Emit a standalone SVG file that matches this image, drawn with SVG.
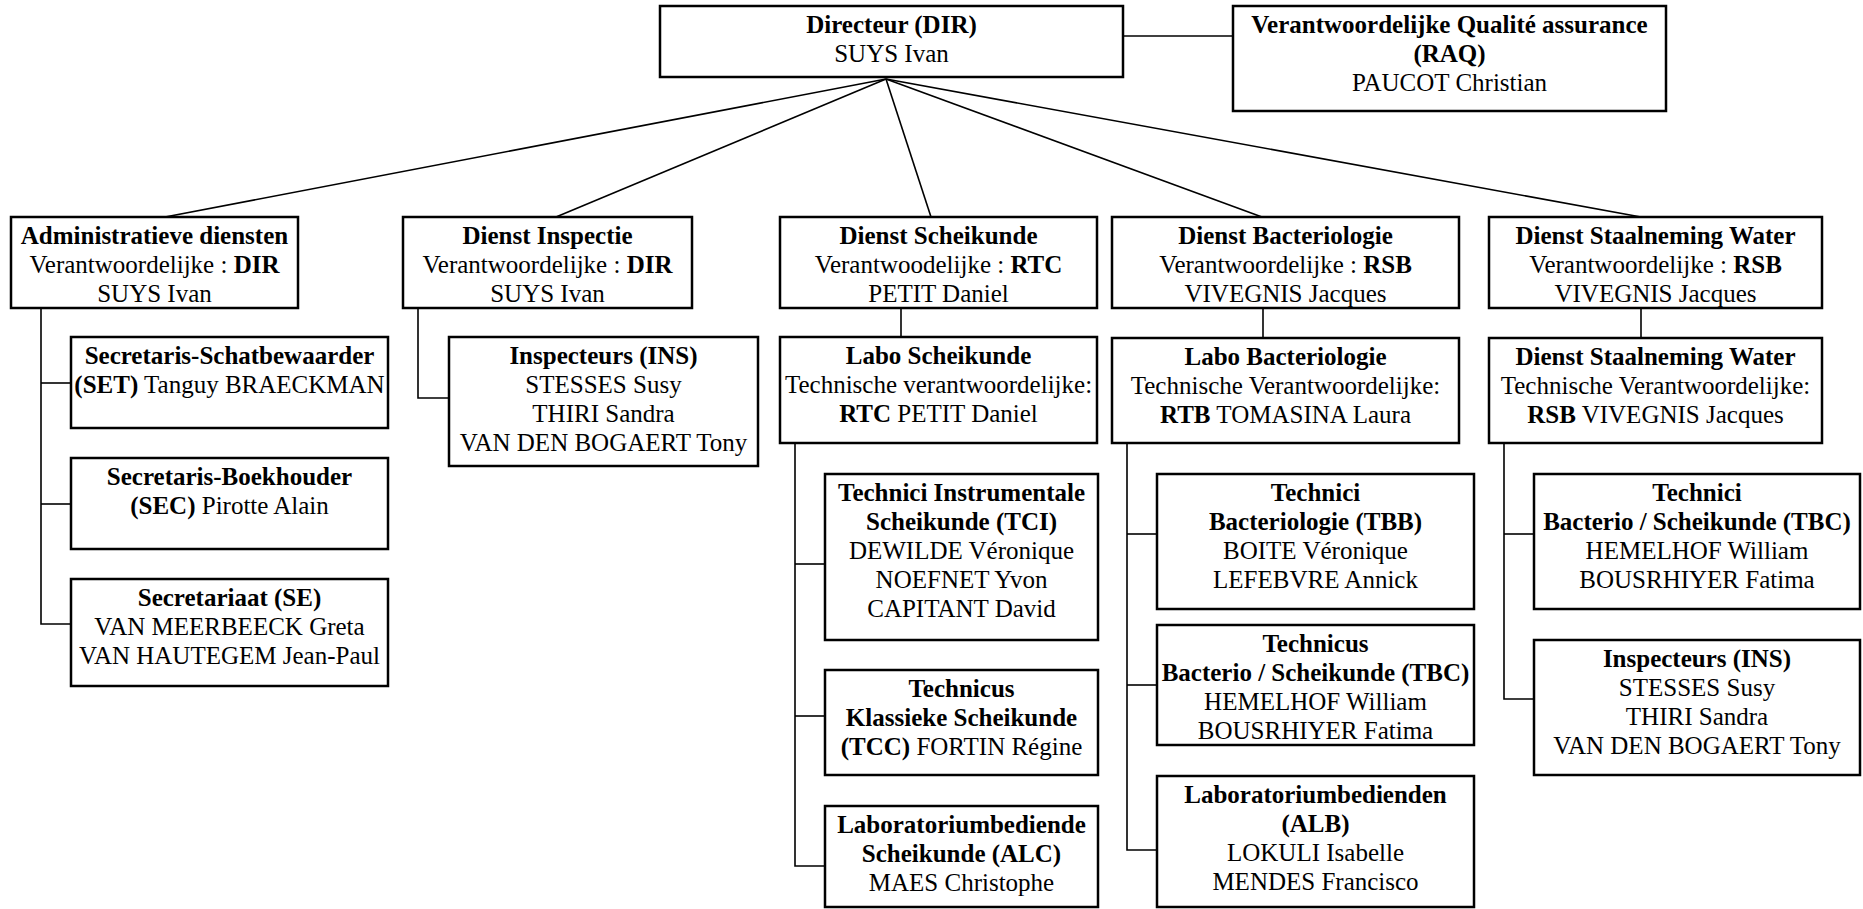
<svg xmlns="http://www.w3.org/2000/svg" width="1863" height="909" viewBox="0 0 1863 909">
<style>
.box{fill:#fff;stroke:#000;stroke-width:2.5}
.ln{stroke:#000;stroke-width:1.6;fill:none}
text{font-family:"Liberation Serif","Times New Roman",serif;font-size:25px;text-anchor:middle;fill:#000}
.b{font-weight:bold}
</style>
<rect width="1863" height="909" fill="#fff"/>
<g id="connectors">
<line class="ln" x1="1123" y1="36" x2="1233" y2="36"/>
<line class="ln" x1="886" y1="79" x2="165" y2="217"/>
<line class="ln" x1="886" y1="79" x2="556" y2="217"/>
<line class="ln" x1="886" y1="79" x2="931" y2="217"/>
<line class="ln" x1="886" y1="79" x2="1262" y2="217"/>
<line class="ln" x1="886" y1="79" x2="1641" y2="217"/>
<polyline class="ln" points="41,308 41,624 71,624"/>
<line class="ln" x1="41" y1="383" x2="71" y2="383"/>
<line class="ln" x1="41" y1="504" x2="71" y2="504"/>
<polyline class="ln" points="418,308 418,398 449,398"/>
<line class="ln" x1="901" y1="308" x2="901" y2="337"/>
<polyline class="ln" points="795,443 795,866 825,866"/>
<line class="ln" x1="795" y1="564" x2="825" y2="564"/>
<line class="ln" x1="795" y1="716" x2="825" y2="716"/>
<line class="ln" x1="1263" y1="308" x2="1263" y2="338"/>
<polyline class="ln" points="1127,443 1127,850 1157,850"/>
<line class="ln" x1="1127" y1="534" x2="1157" y2="534"/>
<line class="ln" x1="1127" y1="685" x2="1157" y2="685"/>
<line class="ln" x1="1641" y1="308" x2="1641" y2="338"/>
<polyline class="ln" points="1504,443 1504,699 1534,699"/>
<line class="ln" x1="1504" y1="534" x2="1534" y2="534"/>
</g>
<g id="dir"><rect class="box" x="660" y="6" width="463" height="71"/>
<text x="891.5" y="32.5" class="b">Directeur (DIR)</text><text x="891.5" y="61.5">SUYS Ivan</text></g>
<g id="raq"><rect class="box" x="1233" y="6" width="433" height="105"/>
<text x="1449.5" y="32.5" class="b">Verantwoordelijke Qualité assurance</text><text x="1449.5" y="61.5" class="b">(RAQ)</text><text x="1449.5" y="90.5">PAUCOT Christian</text></g>
<g id="admin"><rect class="box" x="11" y="217" width="287" height="91"/>
<text x="154.5" y="243.5" class="b">Administratieve diensten</text><text x="154.5" y="272.5">Verantwoordelijke : <tspan class="b">DIR</tspan></text><text x="154.5" y="301.5">SUYS Ivan</text></g>
<g id="set"><rect class="box" x="71" y="337" width="317" height="91"/>
<text x="229.5" y="363.5" class="b">Secretaris-Schatbewaarder</text><text x="229.5" y="392.5"><tspan class="b">(SET)</tspan> Tanguy BRAECKMAN</text></g>
<g id="sec"><rect class="box" x="71" y="458" width="317" height="91"/>
<text x="229.5" y="484.5" class="b">Secretaris-Boekhouder</text><text x="229.5" y="513.5"><tspan class="b">(SEC)</tspan> Pirotte Alain</text></g>
<g id="se"><rect class="box" x="71" y="579" width="317" height="107"/>
<text x="229.5" y="605.5" class="b">Secretariaat (SE)</text><text x="229.5" y="634.5">VAN MEERBEECK Greta</text><text x="229.5" y="663.5">VAN HAUTEGEM Jean-Paul</text></g>
<g id="insp"><rect class="box" x="403" y="217" width="289" height="91"/>
<text x="547.5" y="243.5" class="b">Dienst Inspectie</text><text x="547.5" y="272.5">Verantwoordelijke : <tspan class="b">DIR</tspan></text><text x="547.5" y="301.5">SUYS Ivan</text></g>
<g id="ins1"><rect class="box" x="449" y="337" width="309" height="129"/>
<text x="603.5" y="363.5" class="b">Inspecteurs (INS)</text><text x="603.5" y="392.5">STESSES Susy</text><text x="603.5" y="421.5">THIRI Sandra</text><text x="603.5" y="450.5">VAN DEN BOGAERT Tony</text></g>
<g id="sch"><rect class="box" x="780" y="217" width="317" height="91"/>
<text x="938.5" y="243.5" class="b">Dienst Scheikunde</text><text x="938.5" y="272.5">Verantwoodelijke : <tspan class="b">RTC</tspan></text><text x="938.5" y="301.5">PETIT Daniel</text></g>
<g id="labosch"><rect class="box" x="780" y="337" width="317" height="106"/>
<text x="938.5" y="363.5" class="b">Labo Scheikunde</text><text x="938.5" y="392.5">Technische verantwoordelijke:</text><text x="938.5" y="421.5"><tspan class="b">RTC</tspan> PETIT Daniel</text></g>
<g id="tci"><rect class="box" x="825" y="474" width="273" height="166"/>
<text x="961.5" y="500.5" class="b">Technici Instrumentale</text><text x="961.5" y="529.5" class="b">Scheikunde (TCI)</text><text x="961.5" y="558.5">DEWILDE Véronique</text><text x="961.5" y="587.5">NOEFNET Yvon</text><text x="961.5" y="616.5">CAPITANT David</text></g>
<g id="tcc"><rect class="box" x="825" y="670" width="273" height="105"/>
<text x="961.5" y="696.5" class="b">Technicus</text><text x="961.5" y="725.5" class="b">Klassieke Scheikunde</text><text x="961.5" y="754.5"><tspan class="b">(TCC)</tspan> FORTIN Régine</text></g>
<g id="alc"><rect class="box" x="825" y="806" width="273" height="101"/>
<text x="961.5" y="832.5" class="b">Laboratoriumbediende</text><text x="961.5" y="861.5" class="b">Scheikunde (ALC)</text><text x="961.5" y="890.5">MAES Christophe</text></g>
<g id="bact"><rect class="box" x="1112" y="217" width="347" height="91"/>
<text x="1285.5" y="243.5" class="b">Dienst Bacteriologie</text><text x="1285.5" y="272.5">Verantwoordelijke : <tspan class="b">RSB</tspan></text><text x="1285.5" y="301.5">VIVEGNIS Jacques</text></g>
<g id="labobact"><rect class="box" x="1112" y="338" width="347" height="105"/>
<text x="1285.5" y="364.5" class="b">Labo Bacteriologie</text><text x="1285.5" y="393.5">Technische Verantwoordelijke:</text><text x="1285.5" y="422.5"><tspan class="b">RTB</tspan> TOMASINA Laura</text></g>
<g id="tbb"><rect class="box" x="1157" y="474" width="317" height="135"/>
<text x="1315.5" y="500.5" class="b">Technici</text><text x="1315.5" y="529.5" class="b">Bacteriologie (TBB)</text><text x="1315.5" y="558.5">BOITE Véronique</text><text x="1315.5" y="587.5">LEFEBVRE Annick</text></g>
<g id="tbc1"><rect class="box" x="1157" y="625" width="317" height="120"/>
<text x="1315.5" y="651.5" class="b">Technicus</text><text x="1315.5" y="680.5" class="b">Bacterio / Scheikunde (TBC)</text><text x="1315.5" y="709.5">HEMELHOF William</text><text x="1315.5" y="738.5">BOUSRHIYER Fatima</text></g>
<g id="alb"><rect class="box" x="1157" y="776" width="317" height="131"/>
<text x="1315.5" y="802.5" class="b">Laboratoriumbedienden</text><text x="1315.5" y="831.5" class="b">(ALB)</text><text x="1315.5" y="860.5">LOKULI Isabelle</text><text x="1315.5" y="889.5">MENDES Francisco</text></g>
<g id="staal"><rect class="box" x="1489" y="217" width="333" height="91"/>
<text x="1655.5" y="243.5" class="b">Dienst Staalneming Water</text><text x="1655.5" y="272.5">Verantwoordelijke : <tspan class="b">RSB</tspan></text><text x="1655.5" y="301.5">VIVEGNIS Jacques</text></g>
<g id="staal2"><rect class="box" x="1489" y="338" width="333" height="105"/>
<text x="1655.5" y="364.5" class="b">Dienst Staalneming Water</text><text x="1655.5" y="393.5">Technische Verantwoordelijke:</text><text x="1655.5" y="422.5"><tspan class="b">RSB</tspan> VIVEGNIS Jacques</text></g>
<g id="tbc2"><rect class="box" x="1534" y="474" width="326" height="135"/>
<text x="1697" y="500.5" class="b">Technici</text><text x="1697" y="529.5" class="b">Bacterio / Scheikunde (TBC)</text><text x="1697" y="558.5">HEMELHOF William</text><text x="1697" y="587.5">BOUSRHIYER Fatima</text></g>
<g id="ins2"><rect class="box" x="1534" y="640" width="326" height="135"/>
<text x="1697" y="666.5" class="b">Inspecteurs (INS)</text><text x="1697" y="695.5">STESSES Susy</text><text x="1697" y="724.5">THIRI Sandra</text><text x="1697" y="753.5">VAN DEN BOGAERT Tony</text></g>
</svg>
